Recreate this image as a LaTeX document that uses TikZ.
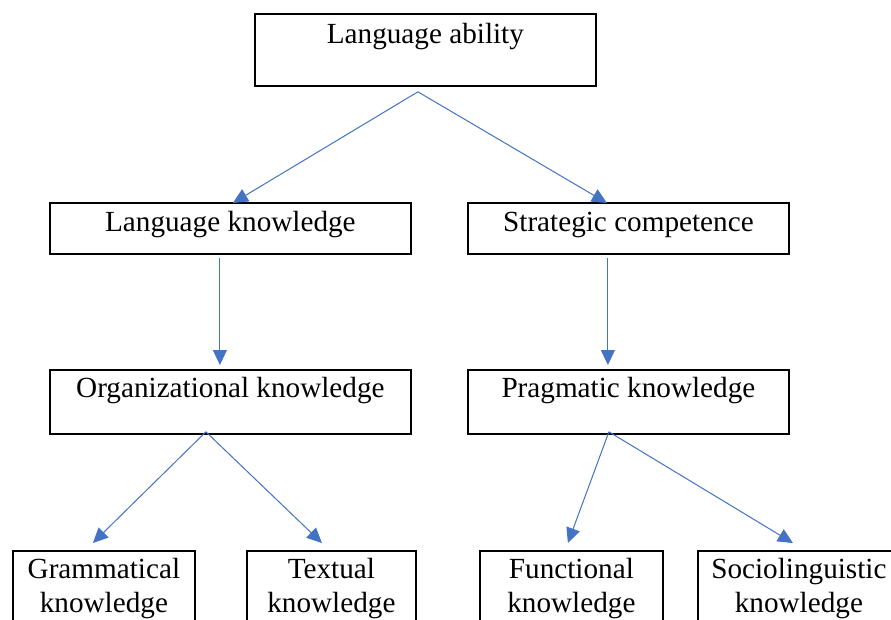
\documentclass[tikz,border=0pt]{standalone}
\usepackage{fontspec}
\setmainfont{Liberation Serif}
\usetikzlibrary{arrows.meta}
\definecolor{arrowblue}{HTML}{4472C4}
\begin{document}
\begin{tikzpicture}[x=1pt,y=-1pt,
  box/.style={draw=black, line width=1.8pt, inner sep=0pt, anchor=north west,
    font=\fontsize{29.2}{34}\selectfont},
  arr/.style={draw=arrowblue, line width=1pt, -{Triangle[length=15pt,width=14pt]}}]
\useasboundingbox (0,0) rectangle (891,619);
\clip (0,0) rectangle (891,619);
\fill[white] (0,0) rectangle (891,619);
% level 1
\node[box, minimum width=341pt, text height=30pt, text depth=42pt] (top) at (254,13) {Language ability};
% level 2
\node[box, minimum width=361pt, text height=29pt, text depth=22pt] (lk) at (49,202) {Language knowledge};
\node[box, minimum width=321pt, text height=29pt, text depth=22pt] (sc) at (467,202) {Strategic competence};
% level 3
\node[box, minimum width=361pt, text height=28pt, text depth=36pt] (ok) at (49,369) {Organizational knowledge};
\node[box, minimum width=321pt, text height=28pt, text depth=36pt] (pk) at (467,369) {Pragmatic knowledge};
% level 4
\node[box, minimum width=182pt, text height=28pt, text depth=100pt] (gk) at (12,550) {\begin{tabular}[t]{@{}c@{}}Grammatical\\knowledge\end{tabular}};
\node[box, minimum width=169pt, text height=28pt, text depth=100pt] (tk) at (246,550) {\begin{tabular}[t]{@{}c@{}}Textual\\knowledge\end{tabular}};
\node[box, minimum width=183pt, text height=28pt, text depth=100pt] (fk) at (479,550) {\begin{tabular}[t]{@{}c@{}}Functional\\knowledge\end{tabular}};
\node[box, minimum width=202pt, text height=28pt, text depth=100pt] (sk) at (697,550) {\begin{tabular}[t]{@{}c@{}}Sociolinguistic\\knowledge\end{tabular}};
% connectors
\draw[arr] ([xshift=-7.5pt,yshift=-5pt]top.south) -- ([xshift=2.5pt,yshift=-1pt]lk.north);
\draw[arr] ([xshift=-7.5pt,yshift=-5pt]top.south) -- ([xshift=-21.5pt,yshift=-1pt]sc.north);
\draw[arr] ([xshift=-10.5pt,yshift=-3pt]lk.south) -- ([xshift=-10.5pt,yshift=4pt]ok.north);
\draw[arr] ([xshift=-20.5pt,yshift=-3pt]sc.south) -- ([xshift=-20.5pt,yshift=4pt]pk.north);
\draw[arr] ([xshift=-24.5pt,yshift=3pt]ok.south) -- ([xshift=-11pt,yshift=7pt]gk.north);
\draw[arr] ([xshift=-24.5pt,yshift=3pt]ok.south) -- ([xshift=-9.5pt,yshift=7pt]tk.north);
\draw[arr] ([xshift=-19.5pt,yshift=3pt]pk.south) -- ([xshift=-3.5pt,yshift=7pt]fk.north);
\draw[arr] ([xshift=-19.5pt,yshift=3pt]pk.south) -- ([xshift=-6pt,yshift=7pt]sk.north);
\end{tikzpicture}
\end{document}
